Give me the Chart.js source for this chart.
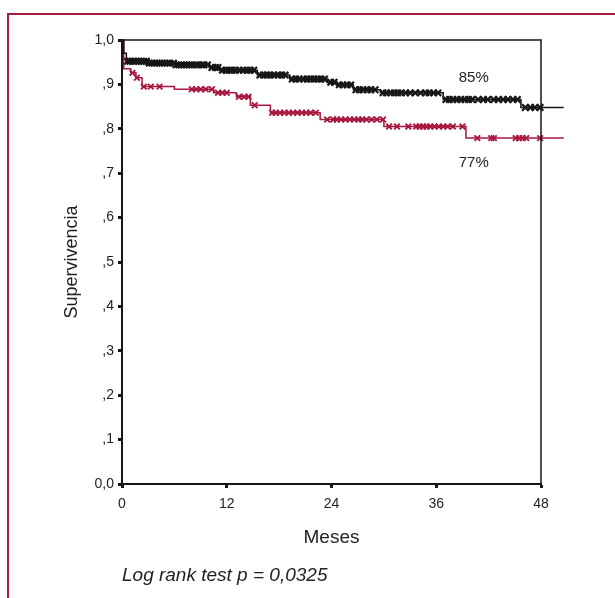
<!DOCTYPE html>
<html lang="es">
<head>
<meta charset="UTF-8">
<title>Supervivencia</title>
<script src="https://cdn.jsdelivr.net/npm/chart.js"></script>
<style>
  html, body { margin: 0; padding: 0; background: #fff; }
  #wrap { width: 615px; height: 598px; }
</style>
</head>
<body>
<div id="wrap"><canvas id="kmChart" width="615" height="598"></canvas></div>
<script>
// Kaplan-Meier curves (time in months, survival 0-1)
const blackTimes = [0, 0.2, 0.5, 3.0, 6.0, 10.0, 11.2, 15.5, 19.2, 23.5, 24.6, 26.5, 29.6, 36.8, 45.7, 50.6];
const blackSurv  = [1.0, 0.97, 0.952, 0.948, 0.944, 0.938, 0.932, 0.921, 0.912, 0.905, 0.899, 0.888, 0.881, 0.866, 0.848, 0.848];
const redTimes = [0, 0.2, 1.0, 1.6, 2.3, 6.0, 10.5, 13.1, 14.7, 17.0, 22.7, 30.0, 39.4, 50.6];
const redSurv  = [1.0, 0.935, 0.926, 0.915, 0.895, 0.889, 0.881, 0.872, 0.853, 0.836, 0.821, 0.805, 0.779, 0.779];

// censored cases (months)
const blackCensored = [0.6, 0.9, 1.3, 1.6, 1.9, 2.2, 2.5, 2.8, 3.1, 3.4, 3.7, 4.0, 4.3, 4.6, 4.9, 5.2, 5.5, 5.9,
  6.2, 6.5, 6.8, 7.1, 7.4, 7.7, 8.0, 8.4, 8.7, 9.1, 9.4, 9.8, 10.3, 10.7, 11.0, 11.5, 11.9, 12.3, 12.6, 13.0,
  13.4, 13.9, 14.3, 14.7, 15.1, 15.8, 16.2, 16.6, 17.0, 17.4, 17.9, 18.3, 18.7, 19.5, 19.9, 20.3, 20.8, 21.2,
  21.6, 22.0, 22.4, 22.8, 23.2, 23.9, 24.3, 24.9, 25.3, 25.8, 26.2, 26.8, 27.2, 27.6, 28.1, 28.5, 29.0, 29.9,
  30.3, 30.8, 31.2, 31.6, 32.0, 32.5, 33.0, 33.6, 34.2, 34.8, 35.2, 35.7, 36.2, 37.1, 37.5, 37.9, 38.4, 38.8,
  39.3, 39.7, 40.1, 40.8, 41.4, 41.9, 42.6, 43.1, 43.7, 44.2, 44.8, 45.3, 46.2, 46.8, 47.3, 47.9];
const redCensored = [1.2, 1.7, 2.5, 3.3, 4.3, 8.0, 8.5, 9.0, 9.6, 10.3, 11.0, 11.5, 12.0, 13.4, 14.0, 14.5, 15.2,
  17.2, 17.6, 18.1, 18.6, 19.1, 19.6, 20.1, 20.6, 21.1, 21.6, 22.2, 23.5, 24.2, 24.6, 25.1, 25.6, 26.1, 26.6,
  27.1, 27.5, 28.0, 28.6, 29.2, 29.9, 30.6, 31.5, 32.8, 33.7, 34.1, 34.5, 34.9, 35.3, 35.8, 36.3, 36.8, 37.3,
  37.9, 39.0, 40.7, 42.3, 42.6, 45.1, 45.5, 45.9, 46.3, 47.9];

const yTickLabels = ['0,0', ',1', ',2', ',3', ',4', ',5', ',6', ',7', ',8', ',9', '1,0'];
const xTicks = [0, 12, 24, 36, 48];

const BLACK = '#161616';
const RED = '#a8173f';
const FRAME = '#a51c3e';

function toPoints(times, surv) {
  return times.map((t, i) => ({ x: t, y: surv[i] }));
}

// survival value of a step curve at time t
function survAt(times, surv, t) {
  let s = surv[0];
  for (let i = 0; i < times.length; i++) {
    if (times[i] <= t) s = surv[i];
  }
  return s;
}

function censorPoints(list, times, surv) {
  return list.map(t => ({ x: t, y: survAt(times, surv, t) }));
}

const extras = {
  id: 'extras',
  beforeDraw(chart) {
    const ctx = chart.ctx;
    ctx.save();
    ctx.fillStyle = '#fff';
    ctx.fillRect(0, 0, chart.width, chart.height);
    ctx.strokeStyle = FRAME;
    ctx.lineWidth = 2;
    ctx.strokeRect(8, 14, 700, 700);
    ctx.restore();
  },
  afterDatasetsDraw(chart) {
    const ctx = chart.ctx;
    const a = chart.chartArea;
    const xs = chart.scales.x, ys = chart.scales.y;
    ctx.save();
    // top and right sides of the plot box
    ctx.strokeStyle = BLACK;
    ctx.lineWidth = 1.5;
    ctx.beginPath();
    ctx.moveTo(a.left, a.top);
    ctx.lineTo(a.right, a.top);
    ctx.lineTo(a.right, a.bottom);
    ctx.stroke();

    ctx.fillStyle = '#222';
    ctx.font = '15px "Liberation Sans", Arial, sans-serif';
    ctx.textAlign = 'center';
    ctx.textBaseline = 'middle';
    ctx.fillText('85%', xs.getPixelForValue(40.3), ys.getPixelForValue(0.914));
    ctx.fillText('77%', xs.getPixelForValue(40.3), ys.getPixelForValue(0.723));

    ctx.font = 'italic 19px "Liberation Sans", Arial, sans-serif';
    ctx.textAlign = 'left';
    ctx.fillText('Log rank test p = 0,0325', a.left, 576);
    ctx.restore();
  }
};

const ctx = document.getElementById('kmChart').getContext('2d');
new Chart(ctx, {
  type: 'scatter',
  data: {
    datasets: [
      {
        data: toPoints(blackTimes, blackSurv),
        showLine: true, stepped: 'before',
        borderColor: BLACK, borderWidth: 1.5, pointRadius: 0, clip: false
      },
      {
        data: toPoints(redTimes, redSurv),
        showLine: true, stepped: 'before',
        borderColor: RED, borderWidth: 1.5, pointRadius: 0, clip: false
      },
      {
        data: censorPoints(blackCensored, blackTimes, blackSurv),
        showLine: false, pointStyle: 'crossRot', pointRadius: 4.5,
        borderColor: BLACK, borderWidth: 2.2, clip: false
      },
      {
        data: censorPoints(redCensored, redTimes, redSurv),
        showLine: false, pointStyle: 'crossRot', pointRadius: 4,
        borderColor: RED, borderWidth: 1.8, clip: false
      }
    ]
  },
  options: {
    responsive: false,
    animation: false,
    events: [],
    layout: { padding: { left: 57, right: 74, top: 40, bottom: 45 } },
    plugins: { legend: { display: false }, tooltip: { enabled: false } },
    scales: {
      x: {
        type: 'linear', min: 0, max: 48,
        afterBuildTicks: s => { s.ticks = xTicks.map(v => ({ value: v })); },
        afterFit: s => { s.height = 69; },
        border: { color: BLACK, width: 2 },
        grid: { drawOnChartArea: false, tickLength: 4, tickWidth: 3, tickColor: BLACK },
        ticks: { padding: 8, color: '#222', font: { family: '"Liberation Sans", Arial', size: 14 } },
        title: { display: true, text: 'Meses', color: '#222', font: { family: '"Liberation Sans", Arial', size: 19 } }
      },
      y: {
        min: 0, max: 1,
        ticks: {
          stepSize: 0.1, padding: 4, color: '#222',
          font: { family: '"Liberation Sans", Arial', size: 14 },
          callback: (v) => yTickLabels[Math.round(v * 10)]
        },
        afterFit: s => { s.width = 65; },
        border: { color: BLACK, width: 2 },
        grid: { drawOnChartArea: false, tickLength: 4, tickWidth: 3, tickColor: BLACK },
        title: { display: true, text: 'Supervivencia', color: '#222', font: { family: '"Liberation Sans", Arial', size: 18 } }
      }
    }
  },
  plugins: [extras]
});
</script>
</body>
</html>
